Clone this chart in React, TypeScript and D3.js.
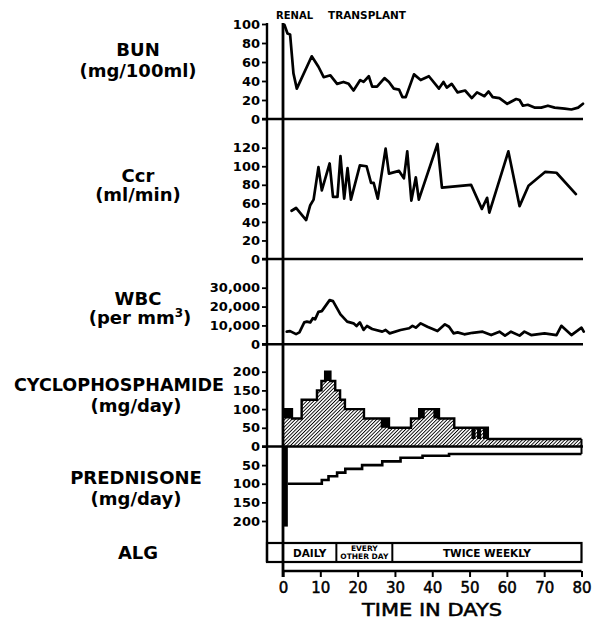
import { useEffect, useRef } from 'react'
import * as d3 from 'd3'

const FONT = '"DejaVu Sans", sans-serif'

const dayTicks = [0, 10, 20, 30, 40, 50, 60, 70, 80]

const bunTicks = [0, 20, 40, 60, 80, 100]
const bunDays = [0.4, 1.2, 1.9, 2.8, 3.7, 7.7, 9.5, 10.9, 12.7, 14.5, 16.2, 17.6, 18.9, 20.7, 21.6, 23, 23.9, 25.2, 27.2, 28.4, 29.7, 31.1, 32, 32.9, 35.1, 36.9, 39.1, 41.8, 43, 43.9, 45.2, 46.8, 48.8, 50.6, 52, 54, 55.1, 56.2, 58, 60.1, 62.5, 63.4, 64.3, 65.6, 67.4, 69.2, 71, 72.8, 75.5, 77.3, 79.1, 80.4]
const bunValues = [99, 90, 89, 48, 32, 66, 55, 44, 46, 37, 39, 37, 30, 41, 39, 45, 34, 34, 43, 39, 32, 31, 23, 23, 47, 41, 45, 32, 39, 33, 37, 28, 30, 22, 28, 24, 29, 23, 22, 16, 21, 20, 14, 15, 12, 12, 14, 12, 11, 10, 12, 16]

const ccrTicks = [0, 20, 40, 60, 80, 100, 120]
const ccrDays = [2.3, 3.5, 6.2, 7.3, 8.2, 9.5, 10.4, 12.5, 13.4, 14.6, 15.4, 16.4, 17.3, 18.2, 20.6, 22.4, 23.6, 24.3, 25.4, 27.5, 28.4, 31.1, 32.4, 33.3, 34.4, 35.6, 36.4, 41.4, 42.6, 50.4, 53.3, 54.7, 55.3, 60.4, 63.4, 65.8, 70.3, 73.3, 78.5]
const ccrValues = [52, 55, 42, 58, 64, 99, 74, 103, 67, 67, 111, 65, 98, 64, 101, 100, 82, 82, 65, 119, 92, 95, 87, 116, 63, 88, 64, 124, 77, 80, 54, 66, 50, 116, 57, 79, 94, 93, 70]

const wbcTicks = [0, 10000, 20000, 30000]
const wbcDays = [1.0, 1.9, 3.5, 4.4, 5.7, 6.4, 7.3, 8.0, 8.6, 9.5, 10.4, 12.5, 13.4, 15.4, 17.2, 18.9, 19.7, 20.6, 21.6, 22.5, 23.9, 26.6, 27.5, 28.6, 31.5, 33.8, 34.7, 35.6, 36.9, 38.7, 41.4, 43.4, 44.5, 45.7, 46.8, 48.6, 50.8, 53.5, 55.8, 58, 59.5, 61.1, 63.4, 64.7, 66.5, 70.1, 73.3, 74.6, 77.3, 80, 80.6]
const wbcValues = [6700, 7000, 5400, 6300, 11600, 12000, 11600, 13800, 13200, 17200, 17600, 23400, 22900, 15900, 12000, 11100, 9700, 11600, 7600, 9700, 8100, 6700, 7600, 5800, 7600, 8500, 9800, 8800, 11100, 9300, 7000, 10600, 9300, 5800, 6300, 5300, 6100, 6700, 4900, 6700, 4600, 6700, 4600, 6700, 4900, 5800, 4900, 9800, 4900, 8800, 6700]

const cycloTicks = [0, 50, 100, 150, 200]
const cycloDays = [0, 2.4, 5.0, 9.1, 10.3, 11.3, 12.7, 14.0, 15.3, 16.6, 21.7, 28.4, 34.3, 36.5, 41.8, 45.9, 54.9, 80]
const cycloDose = [100, 75, 125, 150, 175, 200, 175, 150, 125, 100, 75, 50, 75, 100, 75, 50, 20, 20]
const cycloBlockStart = [0, 11.3, 26.2, 36.5, 40.3, 50.5, 52.0, 53.6]
const cycloBlockEnd = [2.4, 12.7, 28.4, 38.0, 41.8, 51.6, 53.1, 54.9]
const cycloBlockLow = [75, 175, 50, 75, 75, 20, 20, 20]
const cycloBlockHigh = [100, 200, 75, 100, 100, 50, 50, 50]

const predTicks = [50, 100, 150, 200]
const predDays = [0, 1.3, 10.4, 12.2, 14.5, 16.7, 21.2, 26.6, 31.5, 37.4, 44.5, 80]
const predDose = [215, 100, 90, 80, 70, 60, 50, 40, 30, 25, 20, 20]

const algStart = [0, 14.3, 29.3]
const algEnd = [14.3, 29.3, 80]
const algLabels = ['DAILY', 'EVERY OTHER DAY', 'TWICE WEEKLY']

export default function App() {
  const ref = useRef<SVGSVGElement>(null)

  useEffect(() => {
    if (!ref.current) return
    const svg = d3.select(ref.current)
    svg.selectAll('*').remove()

    const x = d3.scaleLinear().domain([0, 80]).range([283, 581.5])
    const yBun = d3.scaleLinear().domain([0, 100]).range([119, 24])
    const yCcr = d3.scaleLinear().domain([0, 120]).range([259, 147.7])
    const yWbc = d3.scaleLinear().domain([0, 30000]).range([344.3, 287.7])
    const yCyc = d3.scaleLinear().domain([0, 200]).range([446.5, 371.7])
    const yPred = d3.scaleLinear().domain([0, 200]).range([446.5, 521])
    const axisX = 267

    const defs = svg.append('defs')
    defs.append('pattern')
      .attr('id', 'hatch').attr('patternUnits', 'userSpaceOnUse')
      .attr('width', 2.5).attr('height', 2.5).attr('patternTransform', 'rotate(45)')
      .append('line')
      .attr('x1', 0).attr('y1', 0).attr('x2', 0).attr('y2', 2.5)
      .attr('stroke', '#000').attr('stroke-width', 1.8)

    const styleAxis = (s: any) => {
      s.select('.domain').remove()
      s.selectAll('.tick line').attr('stroke', '#000').attr('stroke-width', 1.8)
      s.selectAll('.tick text').attr('fill', '#000').attr('font-size', '13px').attr('font-weight', 'bold').attr('font-family', FONT)
    }

    const panels = [
      { y: yBun, ticks: bunTicks, fmt: d3.format('d') },
      { y: yCcr, ticks: ccrTicks, fmt: d3.format('d') },
      { y: yWbc, ticks: wbcTicks, fmt: d3.format(',') },
      { y: yCyc, ticks: cycloTicks, fmt: d3.format('d') },
      { y: yPred, ticks: predTicks, fmt: d3.format('d') },
    ]
    panels.forEach((p) => {
      svg.append('g')
        .attr('transform', `translate(${axisX},0)`)
        .call(d3.axisLeft(p.y).tickValues(p.ticks).tickSize(5).tickPadding(2).tickFormat(p.fmt as any))
        .call(styleAxis)
    })

    // zero baselines
    ;[yBun(0), yCcr(0), yWbc(0), yCyc(0)].forEach((yy) => {
      svg.append('line')
        .attr('x1', 262).attr('x2', 583).attr('y1', yy).attr('y2', yy)
        .attr('stroke', '#000').attr('stroke-width', 2.4)
    })

    // cyclophosphamide hatched steps
    const cycPts = d3.zip(cycloDays, cycloDose) as [number, number][]
    svg.append('path')
      .datum(cycPts)
      .attr('d', d3.area<[number, number]>().curve(d3.curveStepAfter)
        .x((d) => x(d[0])).y0(yCyc(0)).y1((d) => yCyc(d[1])))
      .attr('fill', 'url(#hatch)')
    cycloBlockStart.forEach((s, i) => {
      svg.append('rect')
        .attr('x', x(s)).attr('width', x(cycloBlockEnd[i]) - x(s))
        .attr('y', yCyc(cycloBlockHigh[i])).attr('height', yCyc(cycloBlockLow[i]) - yCyc(cycloBlockHigh[i]))
        .attr('fill', '#000')
    })
    svg.append('path')
      .datum(cycPts)
      .attr('d', d3.line<[number, number]>().curve(d3.curveStepAfter).x((d) => x(d[0])).y((d) => yCyc(d[1])))
      .attr('fill', 'none').attr('stroke', '#000').attr('stroke-width', 2.4)
    svg.append('line')
      .attr('x1', x(80)).attr('x2', x(80)).attr('y1', yCyc(cycloDose[cycloDose.length - 1])).attr('y2', yCyc(0))
      .attr('stroke', '#000').attr('stroke-width', 2)

    // prednisone steps (drawn downward)
    svg.append('rect')
      .attr('x', x(predDays[0])).attr('width', x(predDays[1]) - x(predDays[0]))
      .attr('y', yPred(0)).attr('height', yPred(predDose[0]) - yPred(0))
      .attr('fill', '#000')
    const predPts = (d3.zip(predDays, predDose) as [number, number][]).slice(1)
    svg.append('path')
      .datum(predPts)
      .attr('d', d3.line<[number, number]>().curve(d3.curveStepAfter).x((d) => x(d[0])).y((d) => yPred(d[1])))
      .attr('fill', 'none').attr('stroke', '#000').attr('stroke-width', 2.6)
    svg.append('line')
      .attr('x1', x(80)).attr('x2', x(80)).attr('y1', yPred(predDose[predDose.length - 1])).attr('y2', yPred(0))
      .attr('stroke', '#000').attr('stroke-width', 2)

    // measured series
    const series: [number[], number[], any][] = [
      [bunDays, bunValues, yBun],
      [ccrDays, ccrValues, yCcr],
      [wbcDays, wbcValues, yWbc],
    ]
    series.forEach(([days, vals, y]) => {
      svg.append('path')
        .datum(d3.zip(days, vals) as [number, number][])
        .attr('d', d3.line<[number, number]>().x((d) => x(d[0])).y((d) => y(d[1])))
        .attr('fill', 'none').attr('stroke', '#000').attr('stroke-width', 2.7)
        .attr('stroke-linejoin', 'round').attr('stroke-linecap', 'round')
    })

    // ALG schedule
    const algTop = 543
    const algBottom = 562
    svg.append('rect')
      .attr('x', axisX).attr('y', algTop).attr('width', x(80) - axisX).attr('height', algBottom - algTop)
      .attr('fill', 'none').attr('stroke', '#000').attr('stroke-width', 2.2)
    algStart.forEach((s, i) => {
      if (i > 0) {
        svg.append('line').attr('x1', x(s)).attr('x2', x(s)).attr('y1', algTop).attr('y2', algBottom)
          .attr('stroke', '#000').attr('stroke-width', 2)
      }
      const cx = (x(s) + x(algEnd[i])) / 2
      if (algLabels[i] === 'EVERY OTHER DAY') {
        const t = svg.append('text').attr('text-anchor', 'middle').attr('font-family', FONT)
          .attr('font-weight', 'bold').attr('font-size', '7.5px')
        t.append('tspan').attr('x', cx).attr('y', 550.5).text('EVERY')
        t.append('tspan').attr('x', cx).attr('y', 558.5).text('OTHER DAY')
      } else {
        svg.append('text').attr('x', cx).attr('y', 556.5).attr('text-anchor', 'middle')
          .attr('font-family', FONT).attr('font-weight', 'bold').attr('font-size', '10.5px')
          .text(algLabels[i])
      }
    })

    // vertical axes
    svg.append('line').attr('x1', axisX).attr('x2', axisX).attr('y1', 23).attr('y2', algBottom)
      .attr('stroke', '#000').attr('stroke-width', 2.4)
    svg.append('line').attr('x1', x(0)).attr('x2', x(0)).attr('y1', 23).attr('y2', 577)
      .attr('stroke', '#000').attr('stroke-width', 2.8)

    // time axis
    const xg = svg.append('g').attr('transform', 'translate(0,571)')
      .call(d3.axisBottom(x).tickValues(dayTicks).tickSize(6).tickPadding(5).tickFormat(d3.format('d') as any))
    xg.select('.domain').remove()
    xg.selectAll('.tick line').attr('stroke', '#000').attr('stroke-width', 2)
    xg.selectAll('.tick text').attr('fill', '#000').attr('font-size', '15px').attr('font-family', FONT)
      .attr('stroke', '#000').attr('stroke-width', 0.5)
    svg.append('line').attr('x1', x(0)).attr('x2', x(80)).attr('y1', 571).attr('y2', 571)
      .attr('stroke', '#000').attr('stroke-width', 2.4)
    svg.append('text').attr('x', 432).attr('y', 616).attr('text-anchor', 'middle')
      .attr('font-family', FONT).attr('font-size', '17px').attr('stroke', '#000').attr('stroke-width', 0.5)
      .attr('textLength', 140).attr('lengthAdjust', 'spacingAndGlyphs').text('TIME IN DAYS')

    // top annotation
    svg.append('text').attr('x', 276).attr('y', 19).attr('font-family', FONT).attr('font-weight', 'bold')
      .attr('font-size', '10px').attr('textLength', 37).attr('lengthAdjust', 'spacingAndGlyphs').text('RENAL')
    svg.append('text').attr('x', 328).attr('y', 19).attr('font-family', FONT).attr('font-weight', 'bold')
      .attr('font-size', '10px').attr('textLength', 78).attr('lengthAdjust', 'spacingAndGlyphs').text('TRANSPLANT')

    // panel titles
    const titles: [string, number, number][] = [
      ['BUN', 56, 138], ['(mg/100ml)', 77, 138],
      ['Ccr', 182, 138], ['(ml/min)', 201, 138],
      ['WBC', 305, 138],
      ['CYCLOPHOSPHAMIDE', 391, 119], ['(mg/day)', 412, 136],
      ['PREDNISONE', 484, 136], ['(mg/day)', 505, 136],
      ['ALG', 559, 138],
    ]
    titles.forEach(([t, yy, xx]) => {
      const el = svg.append('text').attr('x', xx).attr('y', yy).attr('text-anchor', 'middle')
        .attr('font-family', FONT).attr('font-weight', 'bold').attr('font-size', '18px').text(t)
      if (t === 'CYCLOPHOSPHAMIDE') el.attr('textLength', 210).attr('lengthAdjust', 'spacingAndGlyphs')
    })
    const wt = svg.append('text').attr('x', 140).attr('y', 324).attr('text-anchor', 'middle')
      .attr('font-family', FONT).attr('font-weight', 'bold').attr('font-size', '18px')
    wt.append('tspan').text('(per mm')
    wt.append('tspan').attr('dy', -7).attr('font-size', '12px').text('3')
    wt.append('tspan').attr('dy', 7).text(')')
  }, [])

  return (
    <svg ref={ref} width={592} height={628}
      style={{ position: 'absolute', left: 0, top: 0, background: '#fff', display: 'block' }} />
  )
}
